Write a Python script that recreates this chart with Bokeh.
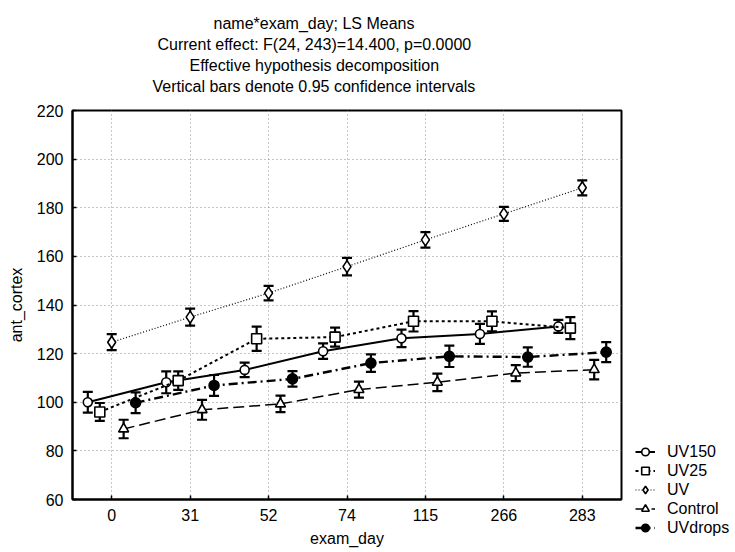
import numpy as np
from bokeh.plotting import figure
from bokeh.models import (FixedTicker, Legend, LegendItem, ColumnDataSource, Range1d, Title)
from bokeh.embed import file_html
from bokeh.resources import INLINE

# ---- data ----
days = ["0", "31", "52", "74", "115", "266", "283"]
series_names = ["UV150", "UV25", "UV", "Control", "UVdrops"]

uv150 = [100.0, 108.2, 113.3, 121.0, 126.3, 128.1, 131.2]
uv150_ci = [4.3, 4.5, 3.0, 3.2, 3.6, 4.1, 2.7]
uv25 = [96.0, 108.9, 126.1, 126.8, 133.3, 133.3, 130.5]
uv25_ci = [3.7, 3.8, 5.0, 3.9, 4.2, 4.1, 4.5]
uv = [124.7, 135.0, 144.9, 155.8, 166.8, 177.5, 188.2]
uv_ci = [3.3, 3.5, 3.0, 3.6, 3.2, 2.9, 3.1]
control = [89.0, 96.9, 99.3, 105.2, 108.2, 112.0, 113.4]
control_ci = [3.8, 4.1, 3.4, 3.3, 3.6, 3.3, 4.0]
uvdrops = [99.8, 106.9, 109.6, 116.1, 118.9, 118.6, 120.6]
uvdrops_ci = [4.3, 4.3, 3.2, 3.6, 4.4, 4.0, 4.1]

y_ticks = [60, 80, 100, 120, 140, 160, 180, 200, 220]
title_lines = ["name*exam_day; LS Means",
               "Current effect: F(24, 243)=14.400, p=0.0000",
               "Effective hypothesis decomposition",
               "Vertical bars denote 0.95 confidence intervals"]
# horizontal offsets (px from frame left) so the block is centred like the reference
title_offsets = [141, 85, 117, 80]

FONT = "Liberation Sans"

p = figure(frame_width=549, frame_height=389, output_backend="svg", toolbar_location=None,
           x_range=Range1d(-0.5, len(days) - 0.5), y_range=Range1d(60, 220),
           min_border_left=72, min_border_right=113, min_border_top=110,
           min_border_bottom=52, background_fill_color="white",
           border_fill_color="white")

p.outline_line_color = "black"
p.outline_line_width = 2

# axes
p.xaxis.ticker = FixedTicker(ticks=list(range(len(days))))
p.xaxis.major_label_overrides = {i: d for i, d in enumerate(days)}
p.yaxis.ticker = FixedTicker(ticks=y_ticks)
for ax in (p.xaxis[0], p.yaxis[0]):
    ax.axis_line_width = 2
    ax.axis_line_color = "black"
    ax.major_tick_in = 4
    ax.major_tick_out = 0
    ax.major_tick_line_width = 1.5
    ax.minor_tick_line_color = None
    ax.major_label_text_font = FONT
    ax.major_label_text_font_size = "16px"
    ax.major_label_text_color = "black"
    ax.axis_label_text_font = FONT
    ax.axis_label_text_font_size = "16px"
    ax.axis_label_text_font_style = "normal"
    ax.axis_label_text_color = "black"
p.xaxis.axis_label = "exam_day"
p.yaxis.axis_label = "ant_cortex"
p.xaxis.major_label_standoff = 9
p.xaxis.axis_label_standoff = 6
p.yaxis.major_label_standoff = 9
p.yaxis.axis_label_standoff = 9

for g in (p.xgrid[0], p.ygrid[0]):
    g.grid_line_color = "#8c8c8c"
    g.grid_line_dash = "1 3"
    g.grid_line_width = 1
p.ygrid.ticker = FixedTicker(ticks=y_ticks)
p.xgrid.ticker = FixedTicker(ticks=list(range(len(days))))

values = [uv150, uv25, uv, control, uvdrops]
cis = [uv150_ci, uv25_ci, uv_ci, control_ci, uvdrops_ci]
offsets = [-0.305, -0.152, 0.0, 0.152, 0.305]
line_dash = ["solid", "3 3", "1 2", "11 5", "9 4 2 4"]
line_width = [2.0, 2.0, 1.2, 1.5, 2.4]
markers = ["circle", "square", "diamond", "triangle", "circle"]
msize = [9, 10, 12, 10, 10]
mfill = ["white", "white", "white", "white", "black"]

items = []
idx = np.arange(len(days))
for name, v, c, off, dsh, lw, mk, ms, mf in zip(series_names, values, cis, offsets,
                                                line_dash, line_width, markers, msize, mfill):
    v = np.array(v, dtype=float)
    c = np.array(c, dtype=float)
    src = ColumnDataSource(dict(x=idx + off, y=v, lo=v - c, hi=v + c))
    lr = p.line("x", "y", source=src, line_color="black", line_width=lw, line_dash=dsh)
    p.segment(x0="x", y0="lo", x1="x", y1="hi", source=src, line_color="black", line_width=2.2)
    p.scatter("x", "lo", source=src, marker="dash", size=10, line_color="black", line_width=2.2)
    p.scatter("x", "hi", source=src, marker="dash", size=10, line_color="black", line_width=2.2)
    sr = p.scatter("x", "y", source=src, marker=mk, size=ms, fill_color=mf,
                   line_color="black", line_width=1.6)
    items.append(LegendItem(label=name, renderers=[lr, sr]))

legend = Legend(items=items, location=(14, -38))
legend.label_text_font = FONT
legend.label_text_font_size = "16px"
legend.label_text_color = "black"
legend.label_height = 19
legend.glyph_height = 19
legend.glyph_width = 20
legend.label_standoff = 12
legend.spacing = 0
legend.padding = 0
legend.margin = 0
legend.border_line_alpha = 0
legend.background_fill_alpha = 0
p.add_layout(legend, "right")

# small empty spacer between the frame and the title block
p.add_layout(Title(text=" ", text_font_size="10px", standoff=2), "above")
# titles: later additions go further from the frame
for txt, off in reversed(list(zip(title_lines, title_offsets))):
    p.add_layout(Title(text=txt, align="left", offset=off, standoff=2,
                       text_font=FONT, text_font_size="16px",
                       text_font_style="normal", text_color="black"), "above")

html = file_html(p, INLINE)
open("out.html", "w").write(html)
